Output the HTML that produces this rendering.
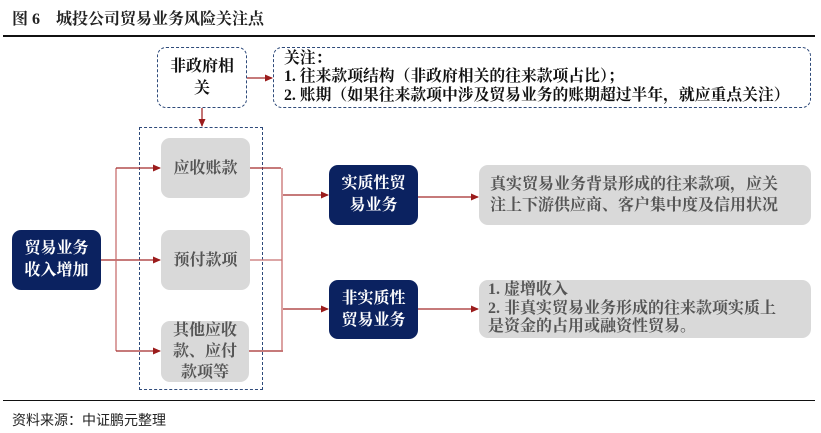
<!DOCTYPE html>
<html><head><meta charset="utf-8"><style>
body{margin:0;width:821px;height:433px;background:#fff;overflow:hidden;position:relative;font-family:"Liberation Serif","Noto Serif CJK SC",serif;}
.a{position:absolute;box-sizing:border-box;display:flex;align-items:center;justify-content:center;text-align:center;font-weight:bold;}
.navy{background:#0b2260;color:#fff;border-radius:9px;font-size:16px;line-height:22px;}
.grey{background:#d9d9d9;color:#555;border-radius:9px;font-size:16px;line-height:21px;}
.dash{border:1.5px dashed #2e4a7a;border-radius:9px;}
</style></head><body>
<div style="position:absolute;left:12px;top:6px;font-size:16px;font-weight:bold;color:#222;">图 6&nbsp;&nbsp;&nbsp;&nbsp;城投公司贸易业务风险关注点</div>
<div style="position:absolute;left:3px;top:35px;width:812px;height:2px;background:#111;"></div>
<div style="position:absolute;left:3px;top:400px;width:812px;height:1px;background:#111;"></div>
<div style="position:absolute;left:12px;top:410px;font-size:14px;color:#222;font-family:'Liberation Sans','Noto Sans CJK SC',sans-serif;">资料来源：中证鹏元整理</div>

<div class="a dash" style="left:157px;top:47px;width:90px;height:61px;font-size:16px;line-height:22px;color:#111;">非政府相<br>关</div>
<div class="a dash" style="left:273px;top:47px;width:538px;height:61px;justify-content:flex-start;text-align:left;padding-left:10px;font-size:15.8px;line-height:18.5px;color:#111;white-space:nowrap;">关注：<br>1. 往来款项结构（非政府相关的往来款项占比）；<br>2. 账期（如果往来款项中涉及贸易业务的账期超过半年，就应重点关注）</div>
<div style="position:absolute;left:139px;top:127px;width:124px;height:263px;box-sizing:border-box;border:1.5px dashed #2e4a7a;"></div>

<div class="a grey" style="left:161px;top:138px;width:89px;height:60px;">应收账款</div>
<div class="a grey" style="left:161px;top:230px;width:89px;height:60px;">预付款项</div>
<div class="a grey" style="left:161px;top:321px;width:88px;height:61px;">其他应收<br>款、应付<br>款项等</div>
<div class="a navy" style="left:12px;top:230px;width:89px;height:60px;">贸易业务<br>收入增加</div>
<div class="a navy" style="left:329px;top:165px;width:89px;height:60px;">实质性贸<br>易业务</div>
<div class="a navy" style="left:329px;top:280px;width:89px;height:59px;">非实质性<br>贸易业务</div>
<div class="a grey" style="left:479px;top:165px;width:332px;height:60px;justify-content:flex-start;text-align:left;padding-left:11px;">真实贸易业务背景形成的往来款项，应关<br>注上下游供应商、客户集中度及信用状况</div>
<div class="a grey" style="left:479px;top:280px;width:332px;height:58px;justify-content:flex-start;text-align:left;padding-left:9px;line-height:18.5px;">1. 虚增收入<br>2. 非真实贸易业务形成的往来款项实质上<br>是资金的占用或融资性贸易。</div>

<svg width="821" height="433" style="position:absolute;left:0;top:0;" fill="none">
<defs><marker id="m" markerWidth="8" markerHeight="8" refX="7" refY="4" orient="auto" markerUnits="userSpaceOnUse"><path d="M0,0.5 L8,4 L0,7.5z" fill="#9b1c1c"/></marker></defs>
<g stroke="#a52a2a" stroke-width="1.3">
<line x1="247" y1="78" x2="272" y2="78" marker-end="url(#m)"/>
<line x1="202" y1="108" x2="202" y2="126" marker-end="url(#m)"/>
<line x1="101" y1="260" x2="160" y2="260" marker-end="url(#m)"/>
<line x1="116" y1="168" x2="116" y2="351" stroke="#c87070"/>
<line x1="116" y1="168" x2="160" y2="168" marker-end="url(#m)"/>
<line x1="116" y1="351" x2="160" y2="351" marker-end="url(#m)"/>
<line x1="250" y1="168" x2="281" y2="168"/>
<line x1="250" y1="260" x2="282" y2="260" stroke="#c87070"/>
<line x1="249" y1="351" x2="283" y2="351"/>
<line x1="282" y1="168" x2="282" y2="351" stroke="#c87070"/>
<line x1="283" y1="195" x2="328" y2="195" marker-end="url(#m)"/>
<line x1="283" y1="309" x2="328" y2="309" marker-end="url(#m)"/>
<line x1="418" y1="197" x2="478" y2="197" marker-end="url(#m)"/>
<line x1="418" y1="309" x2="478" y2="309" marker-end="url(#m)"/>
</g></svg>
</body></html>
